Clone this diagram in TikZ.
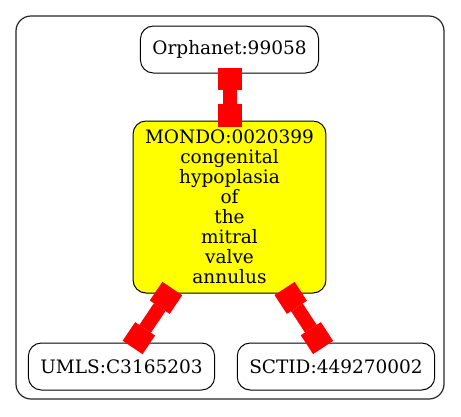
\documentclass[tikz,border=0pt]{standalone}
\usepackage{fontspec}
\setmainfont{DejaVu Serif}
\usetikzlibrary{positioning, arrows.meta}
\definecolor{termyellow}{RGB}{255,255,0}
\definecolor{linkred}{RGB}{255,0,0}

\begin{document}
\begin{tikzpicture}[
    x=1pt, y=1pt,
    every node/.style={font=\fontsize{18.5}{20}\selectfont},
    idbox/.style={draw, rounded corners=13pt, line width=1pt, inner xsep=12pt,
                  minimum height=47pt, align=center},
    termbox/.style={idbox, fill=termyellow, minimum height=172pt},
    cluster/.style={draw=black!85, rounded corners=15pt, line width=1.2pt},
    endbox/.tip={Rectangle[length=22.5pt, width=24pt, line width=0pt]},
    link/.style={linkred, line width=14pt, {endbox}-{endbox},
                 shorten <=-6pt, shorten >=-6pt},
]
\useasboundingbox (0,0) rectangle (461,-416);

% --- cluster frame ---
\draw[cluster] (16,-16) rectangle (444,-399);

% --- term and its cross references ---
\node[termbox]                                    (mondo) at (229.5,-207)
  {MONDO:0020399\\congenital\\hypoplasia\\of\\the\\mitral\\valve\\annulus};
\node[idbox, above=47pt of mondo]                 (orph)  {Orphanet:99058};
\node[idbox, below=49pt of mondo, xshift=-108pt]  (umls)  {UMLS:C3165203};
\node[idbox, below=49pt of mondo, xshift=106.5pt] (sctid) {SCTID:449270002};

% --- links ---
\draw[link] (orph.south) -- (mondo.north);
\draw[link] (mondo.-125) -- (umls.59);
\draw[link] (mondo.-56)  -- (sctid.124);
\end{tikzpicture}
\end{document}
